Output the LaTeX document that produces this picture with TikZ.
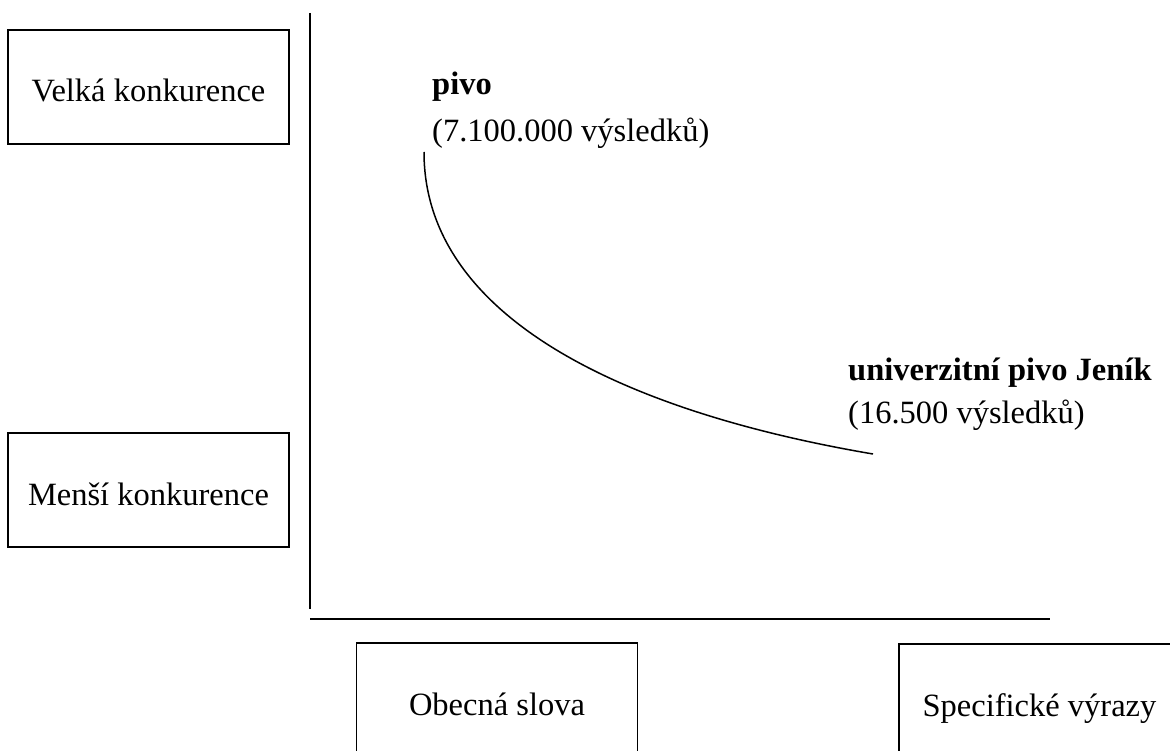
\documentclass[tikz,border=0pt]{standalone}
\usepackage{fontspec}
\setmainfont{Liberation Serif}
\begin{document}
\begin{tikzpicture}[x=1pt,y=-1pt,
  lbox/.style={draw, line width=1.8pt, minimum width=281pt, minimum height=114pt,
    inner sep=0pt, text height=30pt, text depth=0pt, font=\fontsize{32.5}{38}\selectfont},
  lbl/.style={anchor=base west, inner sep=0pt, font=\fontsize{32.5}{38}\selectfont},
  axis/.style={line width=1.7pt},
  trend/.style={line width=1.5pt}]
\useasboundingbox (0,0) rectangle (1170,751);
\clip (0,0) rectangle (1170,751);
% boxes
\node[lbox] (velka) at (148.5,87) {Velká konkurence};
\node[lbox] (mensi) at (148.5,490) {Menší konkurence};
\node[lbox] (obecna) at (497,700) {Obecná slova};
\node[lbox] (spec) at (1039.5,701) {Specifické výrazy};
% axes
\coordinate (ytop) at (310,13);
\coordinate (ybot) at (310,609);
\coordinate (xleft) at (310,619);
\coordinate (xright) at (1050,619);
\draw[axis] (ytop) -- (ybot);
\draw[axis] (xleft) -- (xright);
% labels
\node[lbl] (pivo) at (432,95) {\bfseries pivo};
\node[lbl] (pivon) at (432,142) {(7.100.000 výsledků)};
\node[lbl] (jenik) at (848,380) {\bfseries univerzitní pivo Jeník};
\node[lbl] (jenikn) at (848,423) {(16.500 výsledků)};
% curve
\coordinate (cstart) at (424,152);
\coordinate (cend) at (873,454);
\draw[trend] (cstart) .. controls (424,317) and (623,411.5) .. (cend);
\end{tikzpicture}
\end{document}
